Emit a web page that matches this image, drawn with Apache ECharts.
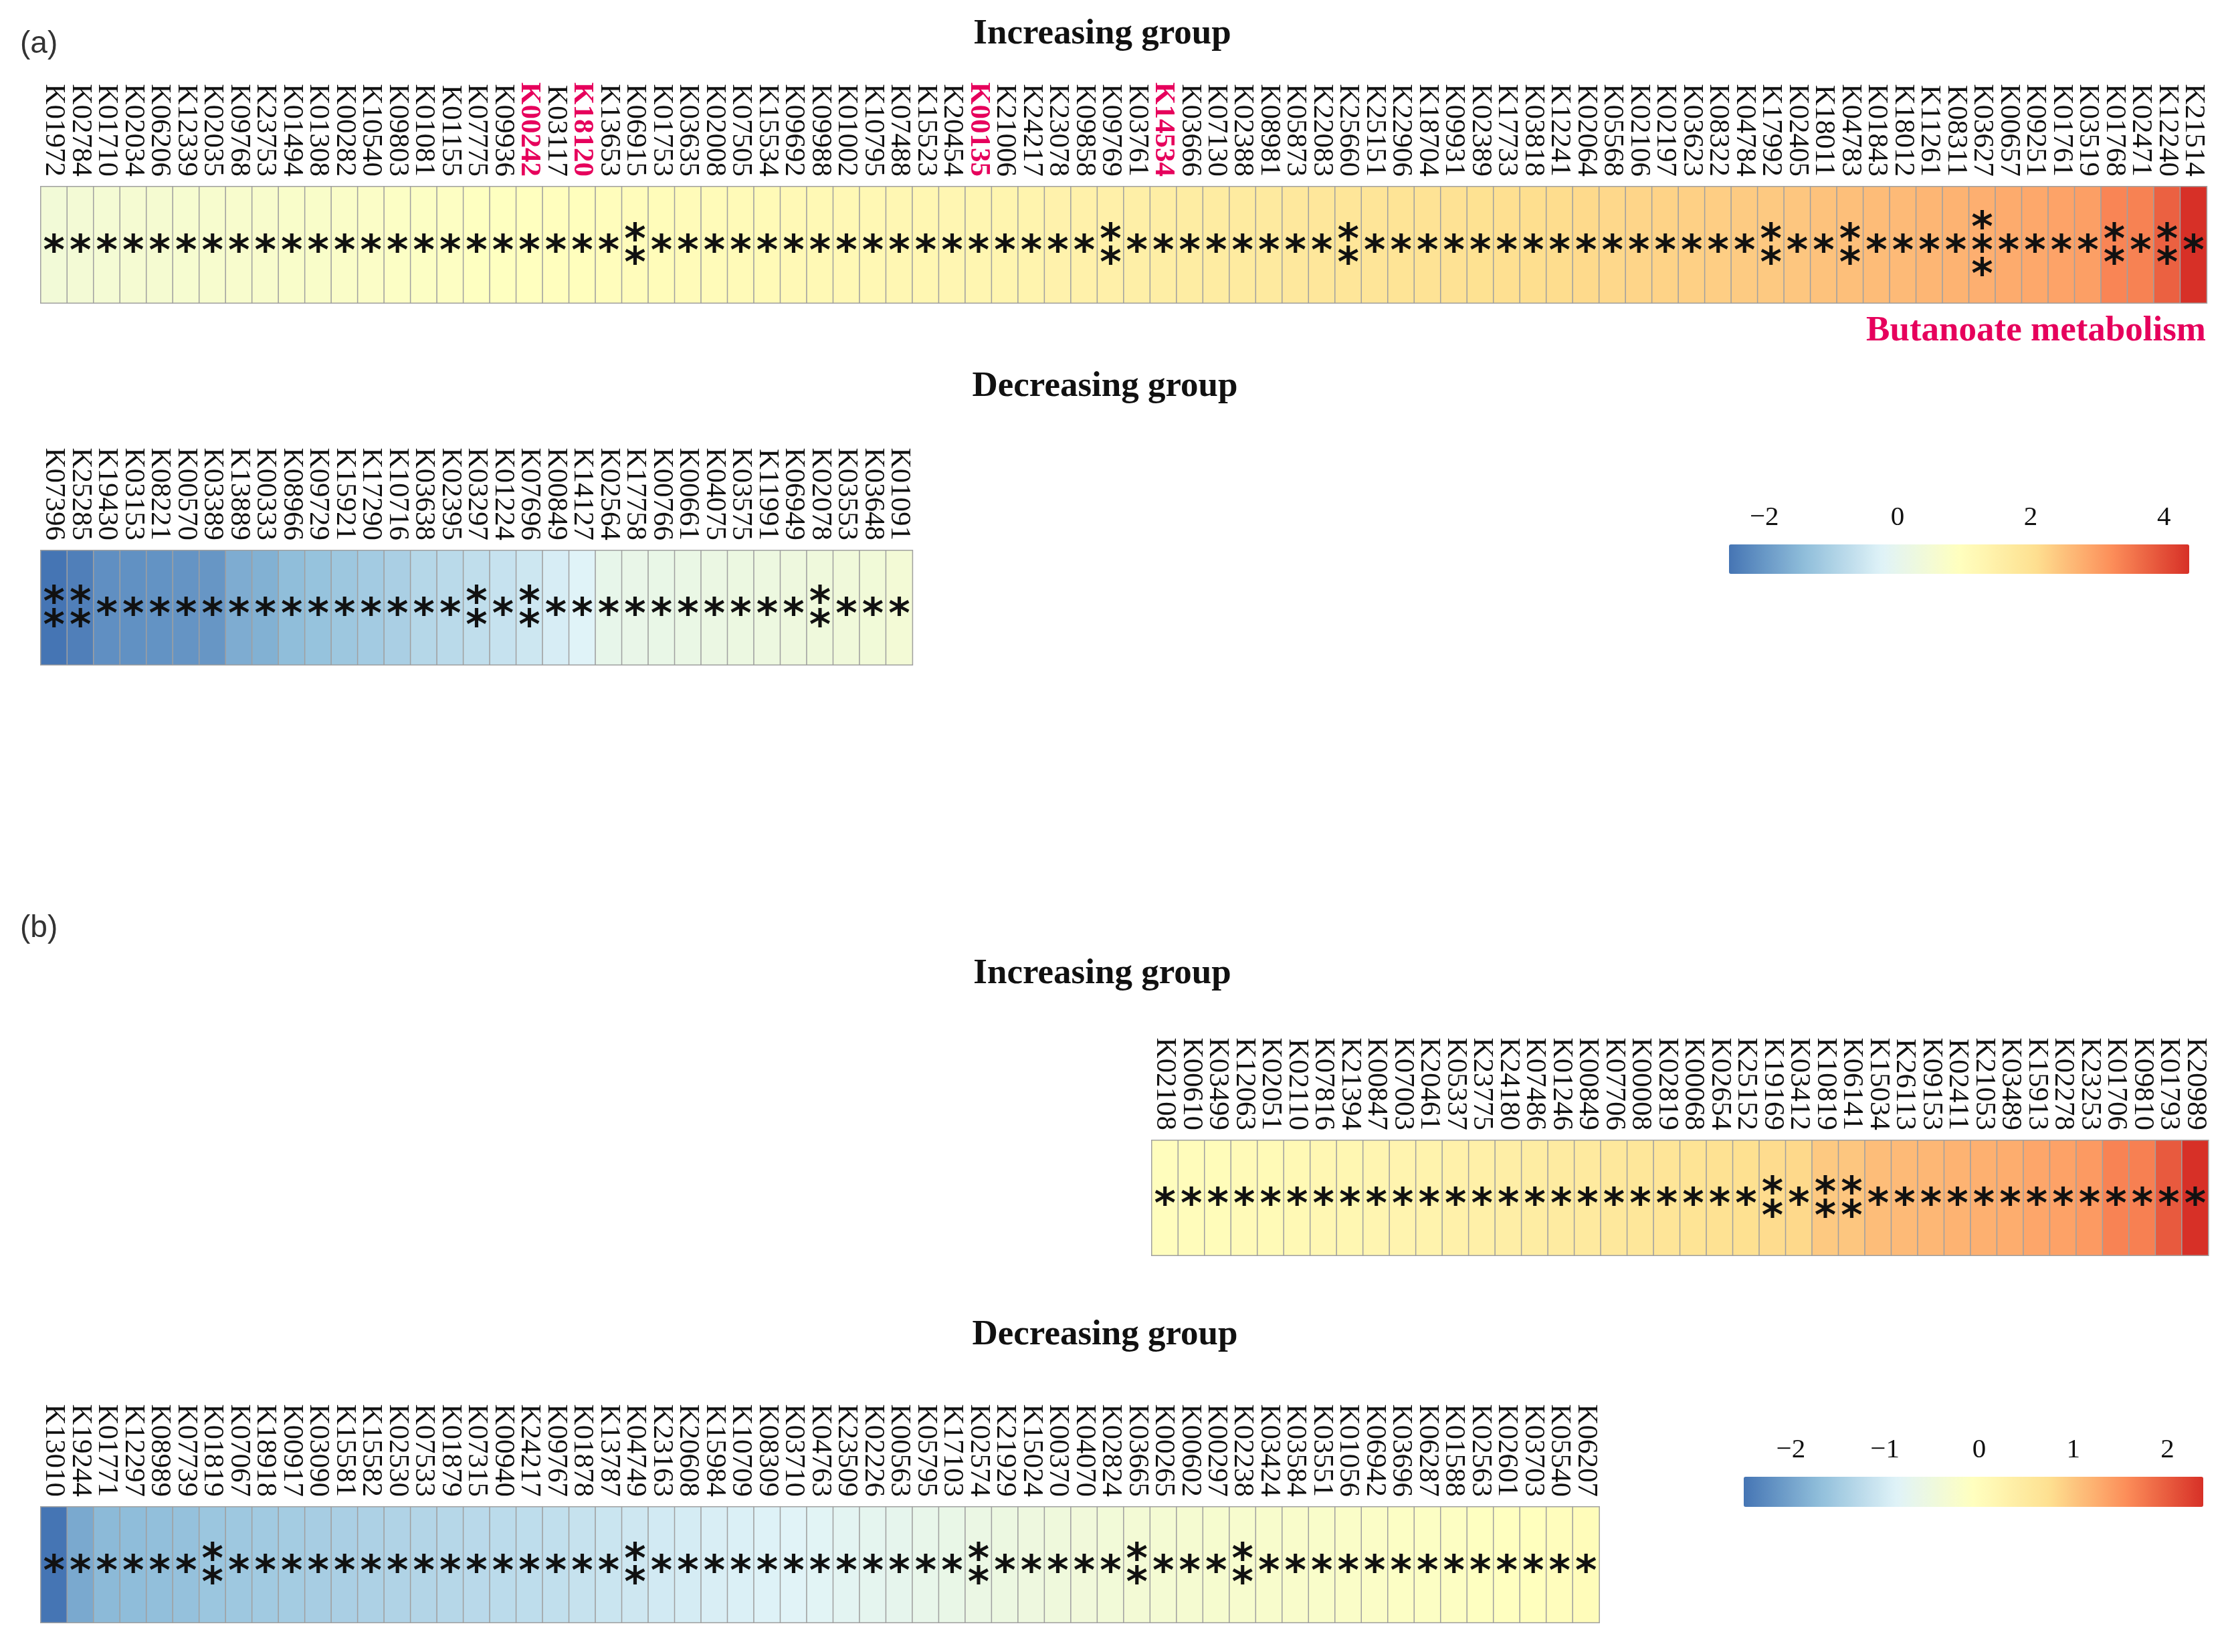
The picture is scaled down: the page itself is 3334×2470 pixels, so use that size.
<!DOCTYPE html>
<html><head><meta charset="utf-8">
<script src="https://cdn.jsdelivr.net/npm/echarts@6/dist/echarts.min.js"></script>
<style>html,body{margin:0;padding:0;background:#fff}#c{width:3334px;height:2470px}</style>
</head><body><div id="c"></div>
<script>
// ---------- DATA ----------
const aIncGenes = ['K01972','K02784','K01710','K02034','K06206','K12339','K02035','K09768','K23753','K01494',
'K01308','K00282','K10540','K09803','K01081','K01155','K07775','K09936','K00242','K03117',
'K18120','K13653','K06915','K01753','K03635','K02008','K07505','K15534','K09692','K09988',
'K01002','K10795','K07488','K15523','K20454','K00135','K21006','K24217','K23078','K09858',
'K09769','K03761','K14534','K03666','K07130','K02388','K08981','K05873','K22083','K25660',
'K25151','K22906','K18704','K09931','K02389','K17733','K03818','K12241','K02064','K05568',
'K02106','K02197','K03623','K08322','K04784','K17992','K02405','K18011','K04783','K01843',
'K18012','K11261','K08311','K03627','K00657','K09251','K01761','K03519','K01768','K02471',
'K12240','K21514'];
const aIncValues = [0.45,0.48,0.51,0.54,0.57,0.59,0.62,0.65,0.67,0.70,
0.72,0.75,0.77,0.80,0.82,0.85,0.88,0.90,0.93,0.96,
0.98,1.00,1.02,1.04,1.06,1.08,1.10,1.12,1.14,1.16,
1.18,1.20,1.22,1.24,1.25,1.27,1.31,1.35,1.39,1.43,
1.47,1.52,1.56,1.60,1.64,1.68,1.72,1.77,1.81,1.85,
1.88,1.92,1.95,1.99,2.02,2.06,2.09,2.12,2.16,2.19,
2.23,2.26,2.30,2.33,2.37,2.40,2.44,2.49,2.53,2.57,
2.61,2.66,2.70,2.75,2.81,2.86,2.92,2.98,3.33,3.37,
3.77,4.38];
const aIncStars = [1,1,1,1,1,1,1,1,1,1, 1,1,1,1,1,1,1,1,1,1, 1,1,2,1,1,1,1,1,1,1, 1,1,1,1,1,1,1,1,1,1,
2,1,1,1,1,1,1,1,1,2, 1,1,1,1,1,1,1,1,1,1, 1,1,1,1,1,2,1,1,2,1, 1,1,1,3,1,1,1,1,2,1, 2,1];

const aDecGenes = ['K07396','K25285','K19430','K03153','K08221','K00570','K03389','K13889','K00333','K08966',
'K09729','K15921','K17290','K10716','K03638','K02395','K03297','K01224','K07696','K00849',
'K14127','K02564','K17758','K00766','K00661','K04075','K03575','K11991','K06949','K02078',
'K03553','K03648','K01091'];
const aDecValues = [-2.53,-2.37,-2.12,-2.10,-2.07,-2.05,-2.02,-1.67,-1.60,-1.40,
-1.30,-1.20,-1.12,-1.02,-0.85,-0.78,-0.70,-0.60,-0.50,-0.36,
-0.23,0.05,0.09,0.12,0.16,0.19,0.23,0.26,0.30,0.33,
0.37,0.41,0.47];
const aDecStars = [2,2,1,1,1,1,1,1,1,1, 1,1,1,1,1,1,2,1,2,1, 1,1,1,1,1,1,1,1,1,2, 1,1,1];

const bIncGenes = ['K02108','K00610','K03499','K12063','K02051','K02110','K07816','K21394','K00847','K07003',
'K20461','K05337','K23775','K24180','K07486','K01246','K00849','K07706','K00008','K02819',
'K00068','K02654','K25152','K19169','K03412','K10819','K06141','K15034','K26113','K09153',
'K02411','K21053','K03489','K15913','K02278','K23253','K01706','K09810','K01793','K20989'];
const bIncValues = [-0.02,0.01,0.03,0.06,0.08,0.11,0.14,0.16,0.19,0.22,
0.26,0.30,0.34,0.38,0.42,0.46,0.50,0.54,0.58,0.62,
0.66,0.70,0.74,0.79,0.82,0.98,1.01,1.10,1.13,1.16,
1.19,1.22,1.25,1.32,1.36,1.44,1.65,1.68,2.01,2.38];
const bIncStars = [1,1,1,1,1,1,1,1,1,1, 1,1,1,1,1,1,1,1,1,1, 1,1,1,2,1,2,2,1,1,1, 1,1,1,1,1,1,1,1,1,1];

const bDecGenes = ['K13010','K19244','K01771','K12297','K08989','K07739','K01819','K07067','K18918','K00917',
'K03090','K15581','K15582','K02530','K07533','K01879','K07315','K00940','K24217','K09767',
'K01878','K13787','K04749','K23163','K20608','K15984','K10709','K08309','K03710','K04763',
'K23509','K02226','K00563','K05795','K17103','K02574','K21929','K15024','K00370','K04070',
'K02824','K03665','K00265','K00602','K00297','K02238','K03424','K03584','K03551','K01056',
'K06942','K03696','K06287','K01588','K02563','K02601','K03703','K05540','K06207'];
const bDecValues = [-2.50,-1.93,-1.74,-1.71,-1.68,-1.65,-1.58,-1.55,-1.52,-1.49,
-1.46,-1.43,-1.40,-1.37,-1.34,-1.31,-1.28,-1.25,-1.22,-1.19,
-1.14,-1.10,-1.06,-1.02,-0.99,-0.95,-0.92,-0.89,-0.86,-0.83,
-0.79,-0.75,-0.71,-0.67,-0.63,-0.59,-0.55,-0.51,-0.47,-0.44,
-0.41,-0.38,-0.35,-0.32,-0.29,-0.27,-0.25,-0.23,-0.21,-0.19,
-0.17,-0.15,-0.13,-0.11,-0.09,-0.07,-0.05,-0.02,0.03];
const bDecStars = [1,1,1,1,1,1,2,1,1,1, 1,1,1,1,1,1,1,1,1,1, 1,1,2,1,1,1,1,1,1,1, 1,1,1,1,1,2,1,1,1,1,
1,2,1,1,1,2,1,1,1,1, 1,1,1,1,1,1,1,1,1];

const highlightGenes = ['K00242','K18120','K00135','K14534'];
const legendATicks = [-2,0,2,4];
const legendBTicks = [-2,-1,0,1,2];
const rangeA = [-2.53, 4.38];
const rangeB = [-2.50, 2.38];
const palette = ['#4575B4','#91BFDB','#E0F3F8','#FFFFBF','#FEE090','#FC8D59','#D73027'];

// ---------- LAYOUT ----------
const CW = 39.49;
const panels = [
  {genes:aIncGenes, vals:aIncValues, stars:aIncStars, left:61, top:279, h:174},
  {genes:aDecGenes, vals:aDecValues, stars:aDecStars, left:61, top:823, h:171},
  {genes:bIncGenes, vals:bIncValues, stars:bIncStars, left:1722, top:1705, h:172},
  {genes:bDecGenes, vals:bDecValues, stars:bDecStars, left:61, top:2253, h:173}
];
const SERIF = '"Liberation Serif","Times New Roman",serif';

const grid=[], xAxis=[], yAxis=[], series=[];
panels.forEach((p,i)=>{
  grid.push({left:p.left, top:p.top, width:CW*p.genes.length, height:p.h});
  xAxis.push({type:'category', gridIndex:i, data:p.genes, position:'top',
    axisLine:{show:false}, axisTick:{show:false}, splitArea:{show:false},
    axisLabel:{interval:0, rotate:90, margin:15, fontFamily:SERIF, fontSize:43, color:'#111',
      formatter:v=> highlightGenes.includes(v) ? '{r|'+v+'}' : v,
      rich:{r:{color:'#E6005C', fontWeight:'bold', fontFamily:SERIF, fontSize:43}}}});
  yAxis.push({type:'category', gridIndex:i, data:[''], show:false});
  series.push({type:'heatmap', xAxisIndex:i, yAxisIndex:i,
    data:p.vals.map((v,k)=>[k,0,v]),
    itemStyle:{borderColor:'#a0a0a0', borderWidth:1.5},
    emphasis:{disabled:true},
    label:{show:true, color:'#111', fontFamily:'"DejaVu Sans",sans-serif', fontWeight:'bold', fontSize:62, lineHeight:35,
      offset:[0,13],
      formatter:(q)=> Array(p.stars[q.dataIndex]).fill('*').join('\n')}});
});
// legend axes
const legends = [
  {ticks:legendATicks, range:rangeA, left:2585, top:814, w:688, h:44},
  {ticks:legendBTicks, range:rangeB, left:2607, top:2208, w:687, h:45}
];
legends.forEach((l,j)=>{
  const gi = 4+j;
  grid.push({left:l.left, top:l.top, width:l.w, height:l.h});
  xAxis.push({type:'value', gridIndex:gi, min:l.range[0], max:l.range[1], position:'top',
    axisLine:{show:false}, axisTick:{show:false}, splitLine:{show:false},
    axisLabel:{customValues:l.ticks, margin:19, fontFamily:SERIF, fontSize:41, color:'#111',
      formatter:v=>String(v).replace('-','\u2212')}});
  yAxis.push({type:'value', gridIndex:gi, show:false});
});

const titleFont = 'bold 53px ' + SERIF;
const option = {
  backgroundColor:'#fff',
  animation:false,
  grid, xAxis, yAxis, series,
  visualMap:[
    {type:'continuous', min:rangeA[0], max:rangeA[1], seriesIndex:[0,1], orient:'horizontal',
     left:legends[0].left, top:legends[0].top, itemWidth:legends[0].h, itemHeight:legends[0].w,
     calculable:false, hoverLink:false, padding:0, inRange:{color:palette}},
    {type:'continuous', min:rangeB[0], max:rangeB[1], seriesIndex:[2,3], orient:'horizontal',
     left:legends[1].left, top:legends[1].top, itemWidth:legends[1].h, itemHeight:legends[1].w,
     calculable:false, hoverLink:false, padding:0, inRange:{color:palette}}
  ],
  graphic:[
    {type:'text', x:1648, y:51, style:{text:'Increasing group', font:titleFont, fill:'#111', textAlign:'center', textVerticalAlign:'middle'}},
    {type:'text', x:1652, y:578, style:{text:'Decreasing group', font:titleFont, fill:'#111', textAlign:'center', textVerticalAlign:'middle'}},
    {type:'text', x:1648, y:1456, style:{text:'Increasing group', font:titleFont, fill:'#111', textAlign:'center', textVerticalAlign:'middle'}},
    {type:'text', x:1652, y:1996, style:{text:'Decreasing group', font:titleFont, fill:'#111', textAlign:'center', textVerticalAlign:'middle'}},
    {type:'text', x:3298, y:495, style:{text:'Butanoate metabolism', font:titleFont, fill:'#E6005C', textAlign:'right', textVerticalAlign:'middle'}},
    {type:'text', x:30, y:66, style:{text:'(a)', font:'46px "Liberation Sans",Arial,sans-serif', fill:'#333', textAlign:'left', textVerticalAlign:'middle'}},
    {type:'text', x:30, y:1388, style:{text:'(b)', font:'46px "Liberation Sans",Arial,sans-serif', fill:'#333', textAlign:'left', textVerticalAlign:'middle'}}
  ]
};
const chart = echarts.init(document.getElementById('c'));
chart.setOption(option);
</script></body></html>
